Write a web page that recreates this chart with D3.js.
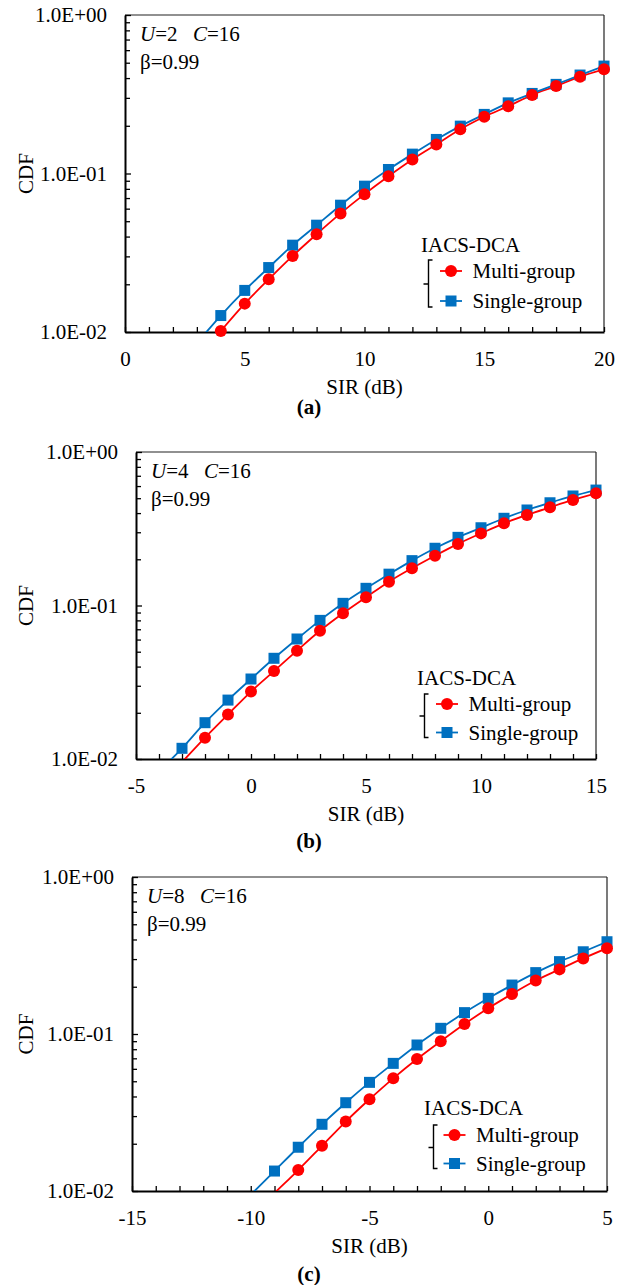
<!DOCTYPE html>
<html><head><meta charset="utf-8">
<script src="https://cdn.jsdelivr.net/npm/d3@7"></script>
<style>body{margin:0;background:#fff}svg{display:block}svg text{font-family:'Liberation Serif','Times New Roman',serif !important;font-size:21px}</style>
</head><body>
<script>
// ---------- data ----------
const sirA = [3,4,5,6,7,8,9,10,11,12,13,14,15,16,17,18,19,20];
const multiA = [0.0067,0.01015,0.0151,0.0215,0.0302,0.0414,0.0560,0.0741,0.0962,0.1227,0.1525,0.190,0.228,0.266,0.313,0.356,0.408,0.454];
const singleA = [0.0085,0.0127,0.0183,0.0255,0.0353,0.0472,0.0631,0.0832,0.106,0.1325,0.164,0.199,0.236,0.279,0.320,0.365,0.418,0.476];

const sirB = [-4,-3,-2,-1,0,1,2,3,4,5,6,7,8,9,10,11,12,13,14,15];
const multiB = [0.0066,0.00953,0.01377,0.0195,0.0275,0.0374,0.0508,0.0684,0.0889,0.113,0.143,0.175,0.211,0.252,0.295,0.343,0.389,0.436,0.487,0.538];
const singleB = [0.0083,0.01174,0.01724,0.0242,0.0332,0.0453,0.0605,0.080,0.1033,0.1294,0.160,0.196,0.236,0.278,0.321,0.370,0.419,0.467,0.517,0.565];

const sirC = [-10,-9,-8,-7,-6,-5,-4,-3,-2,-1,0,1,2,3,4,5];
const multiC = [0.0069,0.0097,0.0136,0.0194,0.0277,0.0384,0.0522,0.0693,0.0900,0.1158,0.1458,0.180,0.219,0.258,0.303,0.352];
const singleC = [0.00946,0.0134,0.0190,0.0266,0.0365,0.0492,0.0650,0.0851,0.1087,0.1368,0.1687,0.205,0.246,0.289,0.334,0.387];

const xDomainA = [0,20], xDomainB = [-5,15], xDomainC = [-15,5];
const xTickLabelsA = [0,5,10,15,20], xTickLabelsB = [-5,0,5,10,15], xTickLabelsC = [-15,-10,-5,0,5];
const yDomain = [0.01, 1];
const yTickLabels = [1, 0.1, 0.01];
const uValues = [2,4,8];
const cValue = 16, betaValue = "0.99";
const seriesNames = ["Multi-group","Single-group"];
const legendTitle = "IACS-DCA";
const panelLabels = ["(a)","(b)","(c)"];
const xTitle = "SIR (dB)", yTitle = "CDF";

// ---------- layout ----------
const RED = "#FF0000", BLUE = "#0070C0";
const FONT = "'Liberation Serif','Times New Roman',serif";
const FS = 21;
const panels = [
  {left:125,right:604,top:15,bottom:332,xd:xDomainA,xl:xTickLabelsA,sir:sirA,multi:multiA,single:singleA,U:uValues[0],lab:panelLabels[0],labY:414,
   lg:{tx:-183,ty:-80,mx:-153,r1:-61,r2:-31,bx:-175.5,bt:-72,bb:-25,bm:-48}},
  {left:136,right:596,top:452,bottom:759,xd:xDomainB,xl:xTickLabelsB,sir:sirB,multi:multiB,single:singleB,U:uValues[1],lab:panelLabels[1],labY:848,
   lg:{tx:-179,ty:-74,mx:-149,r1:-55,r2:-26.5,bx:-171.5,bt:-65,bb:-21.5,bm:-43}},
  {left:132,right:607,top:877,bottom:1191,xd:xDomainC,xl:xTickLabelsC,sir:sirC,multi:multiC,single:singleC,U:uValues[2],lab:panelLabels[2],labY:1281,
   lg:{tx:-183,ty:-76,mx:-152.5,r1:-56,r2:-27.5,bx:-173.5,bt:-66,bb:-22.5,bm:-43.5}}
];

const svg = d3.select("body").append("svg").attr("width",618).attr("height",1285)
  .attr("font-family",FONT).attr("font-size",FS);

const fmtE = d => { const e = Math.round(Math.log10(d)); return "1.0E" + (e<0?"-":"+") + String(Math.abs(e)).padStart(2,"0"); };

panels.forEach((p,i) => {
  const x = d3.scaleLinear().domain(p.xd).range([p.left,p.right]);
  const y = d3.scaleLog().domain(yDomain).range([p.bottom,p.top]);
  const g = svg.append("g");

  const cid = "clip"+i;
  svg.append("clipPath").attr("id",cid).append("rect")
    .attr("x",p.left).attr("y",p.top).attr("width",p.right-p.left).attr("height",p.bottom-p.top);

  g.append("line").attr("x1",p.left).attr("x2",p.right).attr("y1",p.top).attr("y2",p.top).attr("stroke","#222").attr("stroke-width",1.2);
  g.append("line").attr("x1",p.right).attr("x2",p.right).attr("y1",p.top).attr("y2",p.bottom).attr("stroke","#222").attr("stroke-width",1.2);

  const xt = d3.range(p.xd[0], p.xd[1]+1);
  const xa = g.append("g").attr("transform",`translate(0,${p.bottom})`)
    .call(d3.axisBottom(x).tickValues(xt).tickSizeInner(-5).tickSizeOuter(0)
      .tickFormat(d => p.xl.includes(d) ? String(d) : ""));
  xa.attr("font-family",FONT).attr("font-size",FS);
  xa.select(".domain").attr("stroke","#000").attr("stroke-width",2);
  xa.selectAll(".tick line").attr("stroke","#000").attr("stroke-width",1.3);
  xa.selectAll(".tick text").attr("y",34).attr("dy",0).attr("fill","#000");

  const yt = [];
  [0.01,0.1].forEach(b => { for (let k=1;k<10;k++) yt.push(b*k); });
  yt.push(1);
  const ya = g.append("g").attr("transform",`translate(${p.left},0)`)
    .call(d3.axisLeft(y).tickValues(yt).tickSizeInner(-5).tickSizeOuter(0)
      .tickFormat(d => yTickLabels.some(v => Math.abs(v-d)<1e-9) ? fmtE(d) : ""));
  ya.attr("font-family",FONT).attr("font-size",FS);
  ya.select(".domain").attr("stroke","#000").attr("stroke-width",2);
  ya.selectAll(".tick line").attr("stroke","#000").attr("stroke-width",1.3)
    .attr("x2", d => yTickLabels.some(v => Math.abs(v-d)<1e-9) ? 6 : 5);
  ya.selectAll(".tick text").attr("x",-18).attr("dy","0.33em").attr("fill","#000");

  g.append("text").attr("x",(p.left+p.right)/2).attr("y",p.bottom+62).attr("text-anchor","middle").text(xTitle);
  g.append("text").attr("transform",`translate(33,${(p.top+p.bottom)/2}) rotate(-90)`).attr("text-anchor","middle").text(yTitle);
  g.append("text").attr("x",309).attr("y",p.labY).attr("text-anchor","middle").attr("font-weight","bold").text(p.lab);

  const t1 = g.append("text").attr("x",p.left+15).attr("y",p.top+25.5);
  t1.append("tspan").attr("font-style","italic").text("U");
  t1.append("tspan").text("="+p.U);
  t1.append("tspan").attr("x",p.left+68).attr("font-style","italic").text("C");
  t1.append("tspan").text("="+cValue);
  g.append("text").attr("x",p.left+15).attr("y",p.top+53.5).text("β="+betaValue);

  const series = [
    {vals:p.multi,color:RED,shape:"circle"},
    {vals:p.single,color:BLUE,shape:"square"}
  ];
  const line = d3.line().x(d=>x(d[0])).y(d=>y(d[1])).curve(d3.curveMonotoneX);
  series.forEach(s => {
    const pts = p.sir.map((v,k)=>[v,s.vals[k]]);
    g.append("path").attr("d",line(pts)).attr("fill","none").attr("stroke",s.color)
      .attr("stroke-width",1.8).attr("clip-path",`url(#${cid})`);
  });
  series.slice().reverse().forEach(s => {
    const pts = p.sir.map((v,k)=>[v,s.vals[k]]).filter(d=>d[1]>=0.01);
    if (s.shape==="circle") {
      g.selectAll(null).data(pts).enter().append("circle")
        .attr("cx",d=>x(d[0])).attr("cy",d=>y(d[1])).attr("r",6).attr("fill",s.color);
    } else {
      g.selectAll(null).data(pts).enter().append("rect")
        .attr("x",d=>x(d[0])-5.5).attr("y",d=>y(d[1])-5.5).attr("width",11).attr("height",11).attr("fill",s.color);
    }
  });

  const L = p.lg, R = p.right, B = p.bottom;
  g.append("text").attr("x",R+L.tx).attr("y",B+L.ty).text(legendTitle);
  [[L.r1,RED,"circle",seriesNames[0]],[L.r2,BLUE,"square",seriesNames[1]]].forEach(([ry,c,sh,nm]) => {
    const cy = B+ry, cx = R+L.mx;
    g.append("line").attr("x1",cx-11).attr("x2",cx+11).attr("y1",cy).attr("y2",cy).attr("stroke",c).attr("stroke-width",1.8);
    if (sh==="circle") g.append("circle").attr("cx",cx).attr("cy",cy).attr("r",6).attr("fill",c);
    else g.append("rect").attr("x",cx-5.5).attr("y",cy-5.5).attr("width",11).attr("height",11).attr("fill",c);
    g.append("text").attr("x",cx+21.5).attr("y",cy+7).text(nm);
  });
  const bx = R+L.bx, bt = B+L.bt, bb = B+L.bb, bm = B+L.bm;
  g.append("path").attr("d",`M${bx+4},${bt} H${bx} V${bb} H${bx+4} M${bx},${bm} H${bx-5}`)
    .attr("fill","none").attr("stroke","#000").attr("stroke-width",1.4);
});
</script>
</body></html>
